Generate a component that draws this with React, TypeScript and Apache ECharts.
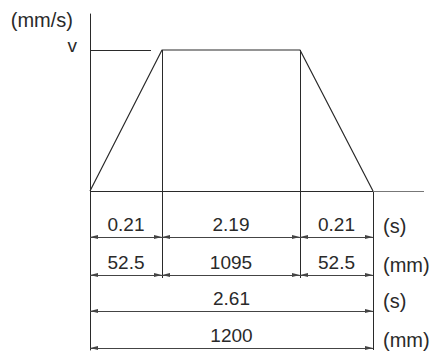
import React, { useEffect, useRef } from "react";
import * as echarts from "echarts";

// ---- data ----
const phaseSeconds = ["0.21", "2.19", "0.21"];
const phaseMillimetres = ["52.5", "1095", "52.5"];
const totalSeconds = "2.61";
const totalMillimetres = "1200";
const speedProfile = [0, 1, 1, 0]; // fraction of v at each phase boundary
const rowUnits = ["(s)", "(mm)", "(s)", "(mm)"];
const speedUnit = "(mm/s)";
const speedLabel = "v";

// ---- layout (schematic drawing, not to scale) ----
const W = 432;
const H = 351;
const GRID_LEFT = 90;
const GRID_RIGHT = 424;
const GRID_TOP = 14;
const GRID_BOTTOM = 350;
const BASE_Y = 191;
const V_Y = 50;
const phaseSpan = [72, 138, 73];
const V_TICK_LEN = 61;
const ROW_Y = [237, 275, 311, 348];
const INNER_EXT_BOTTOM = 278;
const UNIT_X = 383;
const UNIT_CY = [226, 265, 301, 340];

const FONT = "'Liberation Sans', Arial, Helvetica, sans-serif";
const INK = "#2a2a2a";

export default function App() {
  const ref = useRef<HTMLDivElement>(null);

  useEffect(() => {
    document.body.style.margin = "0";
    if (!ref.current) return;
    const chart = echarts.init(ref.current, undefined, { renderer: "svg" });

    const scale = BASE_Y - V_Y;
    const py = (px: number) => (BASE_Y - px) / scale;
    const xMax = GRID_RIGHT - GRID_LEFT;

    const bx: number[] = [0];
    phaseSpan.forEach((s, i) => bx.push(bx[i] + s));
    const end = bx[bx.length - 1];

    const seg = (x1: number, y1: number, x2: number, y2: number) => ({
      coords: [
        [x1, y1],
        [x2, y2],
      ],
    });

    const arrowEnd = {
      symbol: "triangle",
      symbolSize: [4, 8],
      symbolOffset: [0, 4],
    };

    const dimRow = (rowIdx: number, labels: string[], ranges: number[][]) =>
      ranges.map((r, i) => [
        { coord: [r[0], py(ROW_Y[rowIdx])], name: labels[i], ...arrowEnd },
        { coord: [r[1], py(ROW_Y[rowIdx])], ...arrowEnd },
      ]);

    const phaseRanges = [0, 1, 2].map((i) => [bx[i], bx[i + 1]]);
    const fullRange = [[0, end]];

    const option: any = {
      animation: false,
      grid: {
        left: GRID_LEFT,
        top: GRID_TOP,
        width: xMax,
        height: GRID_BOTTOM - GRID_TOP,
        containLabel: false,
      },
      xAxis: {
        type: "value",
        min: 0,
        max: xMax,
        show: false,
      },
      yAxis: {
        type: "value",
        min: py(GRID_BOTTOM),
        max: py(GRID_TOP),
        axisLine: { show: true, lineStyle: { color: INK, width: 1 } },
        axisTick: { show: false },
        axisLabel: { show: false },
        splitLine: { show: false },
      },
      graphic: [
        {
          type: "text",
          x: 73,
          y: 20,
          style: {
            text: speedUnit,
            fill: INK,
            font: `20px ${FONT}`,
            align: "right",
            verticalAlign: "middle",
          },
        },
        {
          type: "text",
          x: 77,
          y: 45,
          style: {
            text: speedLabel,
            fill: INK,
            font: `19px ${FONT}`,
            align: "right",
            verticalAlign: "middle",
          },
        },
        ...rowUnits.map((u, i) => ({
          type: "text",
          x: UNIT_X,
          y: UNIT_CY[i],
          style: {
            text: u,
            fill: INK,
            font: `20px ${FONT}`,
            align: "left",
            verticalAlign: "middle",
          },
        })),
      ],
      series: [
        {
          type: "lines",
          coordinateSystem: "cartesian2d",
          silent: true,
          lineStyle: { color: INK, width: 1, opacity: 1 },
          data: [
            seg(0, 0, end, 0),
            seg(0, 1, V_TICK_LEN, 1),
            seg(bx[1], 1, bx[1], py(INNER_EXT_BOTTOM)),
            seg(bx[2], 1, bx[2], py(INNER_EXT_BOTTOM)),
            seg(bx[3], 0, bx[3], py(GRID_BOTTOM)),
          ],
        },
        {
          type: "lines",
          coordinateSystem: "cartesian2d",
          silent: true,
          lineStyle: { color: "#777", width: 1, opacity: 1 },
          data: [seg(end, 0, xMax, 0)],
        },
        {
          type: "line",
          silent: true,
          symbol: "none",
          lineStyle: { color: INK, width: 1.2 },
          data: bx.map((x, i) => [x, speedProfile[i]]),
          markLine: {
            silent: true,
            symbol: ["triangle", "triangle"],
            symbolSize: 8,
            itemStyle: { color: INK },
            lineStyle: { color: "#444", width: 1, type: "solid" },
            label: {
              show: true,
              position: "insideMiddleTop",
              formatter: "{b}",
              color: INK,
              fontSize: 19,
              fontFamily: FONT,
              distance: 3,
            },
            emphasis: { disabled: true },
            data: [
              ...dimRow(0, phaseSeconds, phaseRanges),
              ...dimRow(1, phaseMillimetres, phaseRanges),
              ...dimRow(2, [totalSeconds], fullRange),
              ...dimRow(3, [totalMillimetres], fullRange),
            ],
          },
        },
      ],
    };

    chart.setOption(option);
    return () => chart.dispose();
  }, []);

  return <div ref={ref} style={{ width: W, height: H }} />;
}
